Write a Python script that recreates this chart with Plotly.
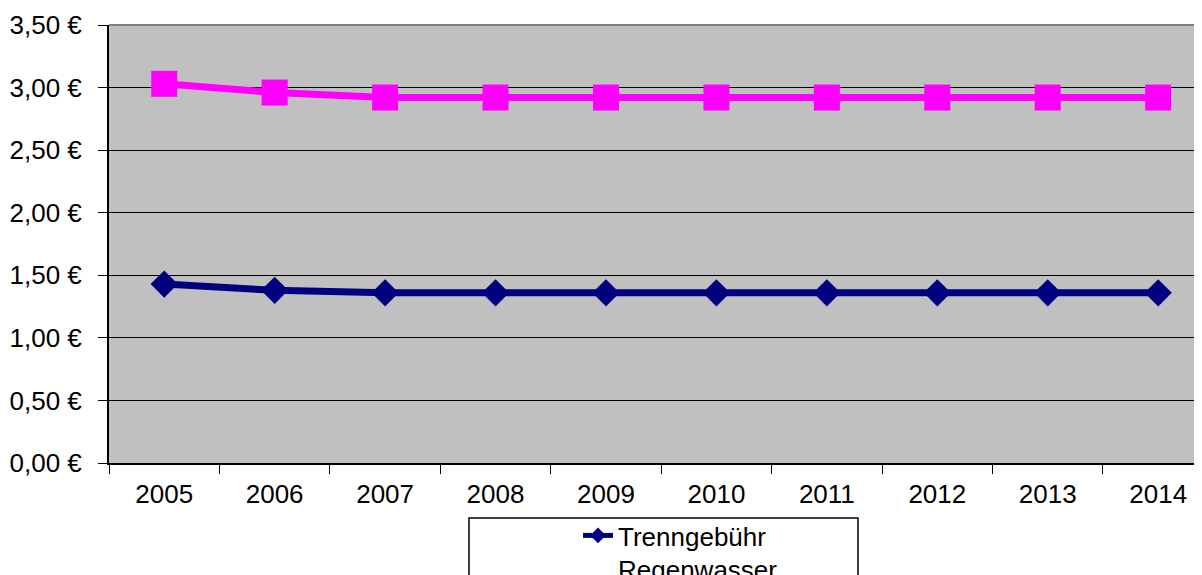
import plotly.graph_objects as go

years = ["2005", "2006", "2007", "2008", "2009", "2010", "2011", "2012", "2013", "2014"]
schmutzwasser = [3.03, 2.96, 2.92, 2.92, 2.92, 2.92, 2.92, 2.92, 2.92, 2.92]
regenwasser = [1.43, 1.38, 1.36, 1.36, 1.36, 1.36, 1.36, 1.36, 1.36, 1.36]
y_ticks = [0, 0.5, 1.0, 1.5, 2.0, 2.5, 3.0, 3.5]
y_labels = ["0,00 €", "0,50 €", "1,00 €", "1,50 €", "2,00 €", "2,50 €", "3,00 €", "3,50 €"]

# The page body has an 8px margin; work in reference pixels minus this offset.
OFF = 8
W, H = 1202 - OFF, 575 - OFF
L, T = 109 - OFF, 25 - OFF
B = 575 - 463
R = 0
FONT = "Liberation Sans, Arial, sans-serif"

fig = go.Figure()
fig.add_trace(go.Scatter(
    x=years, y=regenwasser, name="Trenngebühr<br>Regenwasser",
    mode="lines+markers",
    line=dict(color="#000080", width=7),
    marker=dict(symbol="diamond", size=21, color="#000080"),
))
fig.add_trace(go.Scatter(
    x=years, y=schmutzwasser, name="Schmutzwassergebühr",
    mode="lines+markers", showlegend=False,
    line=dict(color="#FF00FF", width=7),
    marker=dict(symbol="square", size=26, color="#FF00FF"),
))

plot_w = W - L - R
plot_h = H - T - B
cat_w = 110.44


def px_x(px):
    return (px - OFF - L) / plot_w


def px_y(py):
    return -((py - OFF) - (H - B)) / plot_h


fig.update_layout(
    width=W, height=H,
    margin=dict(l=L, r=R, t=T, b=B, autoexpand=False),
    paper_bgcolor="white",
    plot_bgcolor="#C0C0C0",
    font=dict(family=FONT, size=26, color="black"),
    xaxis=dict(
        type="category",
        range=[-0.5, -0.5 + plot_w / cat_w],
        tickson="boundaries",
        ticks="outside", ticklen=9, tickwidth=1, tickcolor="black",
        showline=True, linecolor="black", linewidth=2,
        showgrid=False, zeroline=False,
        ticklabelstandoff=7,
        tickfont=dict(size=26),
    ),
    yaxis=dict(
        range=[0, 3.5],
        tickvals=y_ticks,
        ticktext=y_labels,
        ticks="outside", ticklen=9, tickwidth=1, tickcolor="black",
        showline=True, linecolor="black", linewidth=2,
        showgrid=True, gridcolor="black", gridwidth=1.3,
        zeroline=False,
        ticklabelstandoff=11,
        tickfont=dict(size=26),
    ),
    legend=dict(
        x=px_x(578), xanchor="left",
        y=px_y(512), yanchor="top",
        bgcolor="rgba(0,0,0,0)", borderwidth=0,
        font=dict(size=26),
        valign="top",
        itemsizing="constant",
    ),
    showlegend=True,
    shapes=[
        dict(type="line", xref="paper", yref="paper", x0=0, x1=1, y0=1, y1=1,
             line=dict(color="#808080", width=2)),
        dict(type="rect", xref="paper", yref="paper",
             x0=px_x(469), x1=px_x(858),
             y0=px_y(518), y1=px_y(600),
             line=dict(color="black", width=1.5), fillcolor="white", layer="below"),
    ],
)

fig.write_html("out.html")
